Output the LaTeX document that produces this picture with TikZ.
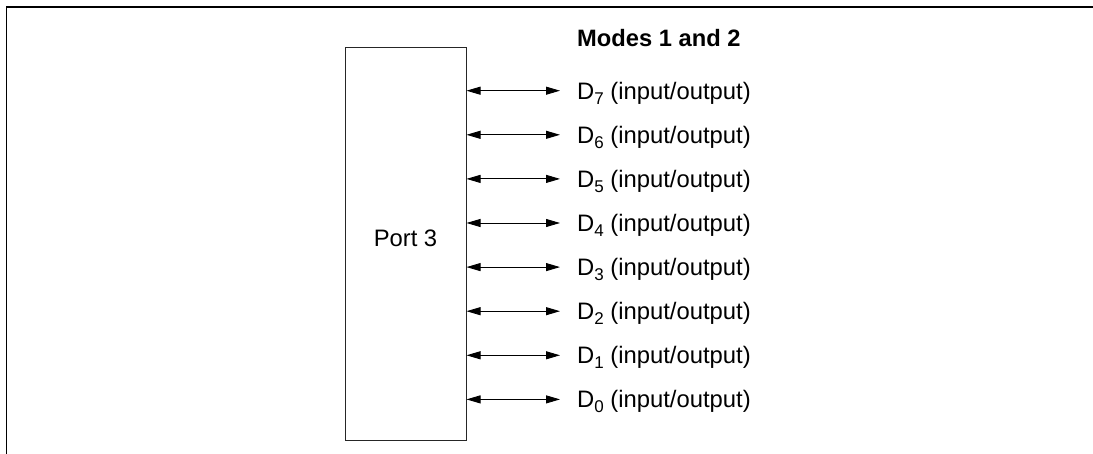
\documentclass[tikz,border=0pt]{standalone}
\usepackage{fontspec}
\setmainfont{Liberation Sans}
\usetikzlibrary{arrows.meta}
\newcommand{\dsub}[1]{\raisebox{-5pt}{\fontsize{17}{17}\selectfont #1}}
\begin{document}
\begin{tikzpicture}[x=1pt,y=-1pt,
  txt/.style={inner sep=0pt,font=\fontsize{23.8}{26}\selectfont},
  link/.style={line width=0.9pt,{Triangle[length=14pt,width=8pt]}-{Triangle[length=14pt,width=8pt]}}]
\useasboundingbox (0,0) rectangle (1093,454);
\draw[line width=1.2pt] (6.5,454) -- (6.5,7) -- (1093,7);
\node[draw=black!85,line width=1pt,minimum width=121pt,minimum height=393pt,inner sep=0pt] (port) at (405.5,243.7) {};
\node[txt,anchor=base] (plabel) at (405.5,246.7) {Port 3};
\node[txt,anchor=base west,font=\fontsize{23.7}{26}\selectfont\bfseries] (modes) at (577,46.3) {Modes 1 and 2};
\foreach \i in {0,...,7}{
  \pgfmathsetmacro{\yy}{90.7+(7-\i)*44.1}
  \coordinate (e\i) at (560,\yy);
  \node[txt,anchor=base west] (d\i) at (577,\yy+8.5) {D\dsub{\i} (input/output)};
  \draw[link] (port.east |- e\i) -- (e\i);
}
\end{tikzpicture}
\end{document}
